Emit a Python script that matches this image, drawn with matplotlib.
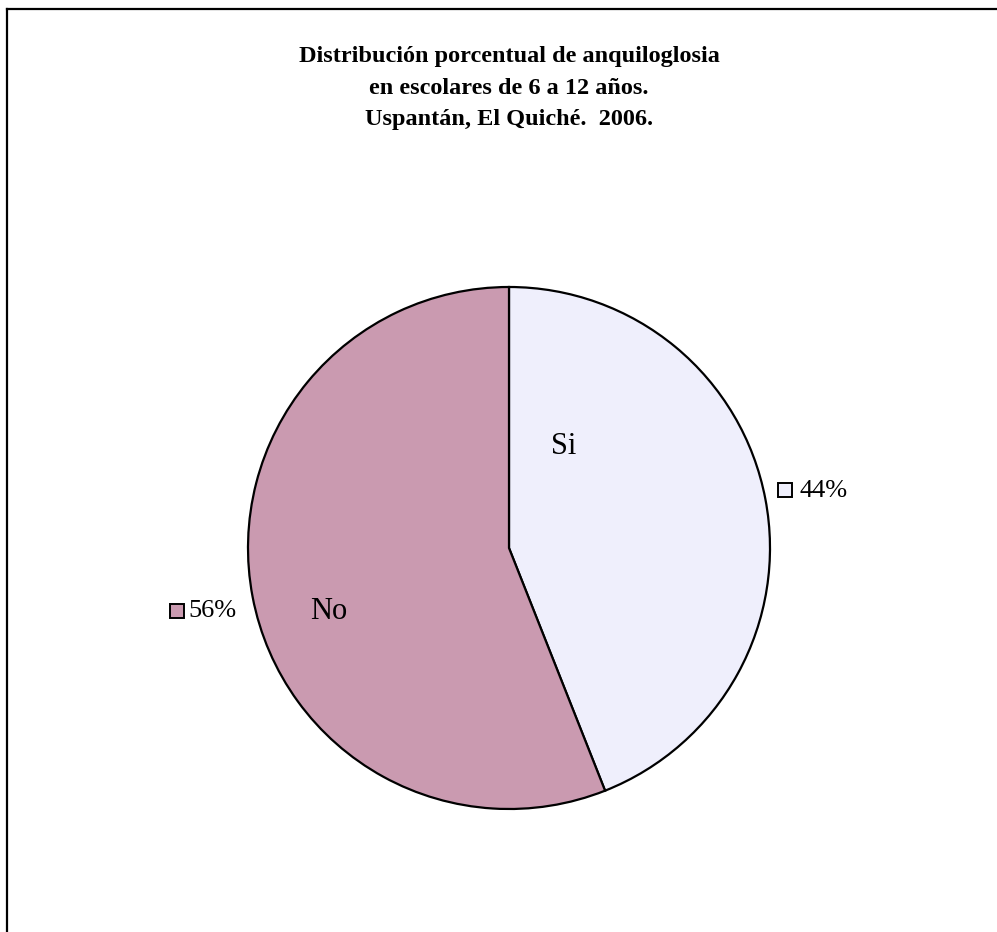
import numpy as np
import matplotlib.pyplot as plt
from matplotlib.lines import Line2D

# Datos del grafico
categorias = ['Si', 'No']
porcentajes = [44, 56]
colores = ['#EFEFFC', '#CA9AB0']
titulo = ('Distribución porcentual de anquiloglosia\n'
          'en escolares de 6 a 12 años.\n'
          'Uspantán, El Quiché.  2006.')

plt.rcParams['font.family'] = ['Liberation Serif', 'DejaVu Serif']

W, H = 997, 932
fig = plt.figure(figsize=(W / 100, H / 100), dpi=100)

# marco exterior (izquierda y arriba)
fig.add_artist(Line2D([7 / W, 7 / W], [0, 1 - 9 / H], color='black', lw=1.6))
fig.add_artist(Line2D([7 / W, 1], [1 - 9 / H, 1 - 9 / H], color='black', lw=1.6))

fig.text(509 / W, 1 - 46 / H, titulo, ha='center', va='top', fontsize=17.5,
         fontweight='bold', linespacing=1.66)

# ejes del pastel: centro (509, 548), radio 261 px
cx, cy, r = 509, 548, 261
ax = fig.add_axes([(cx - r) / W, (H - cy - r) / H, 2 * r / W, 2 * r / H])
wedges, _ = ax.pie(porcentajes, colors=colores, startangle=90, counterclock=False,
                   wedgeprops=dict(edgecolor='black', linewidth=1.6))
ax.set_xlim(-1, 1)
ax.set_ylim(-1, 1)
ax.set_aspect('equal')
ax.axis('off')

# nombres dentro de cada porcion
ax.text(0.21, 0.39, 'Si', fontsize=22, ha='center', va='center')
ax.text(-0.69, -0.245, 'No', fontsize=22, ha='center', va='center')

# etiquetas de porcentaje con cuadro de color
for w, p, c in zip(wedges, porcentajes, colores):
    ang = np.deg2rad((w.theta1 + w.theta2) / 2)
    x, y = 1.1 * np.cos(ang), 1.1 * np.sin(ang)
    if x > 0:
        ax.plot(x - 0.023, y + 0.016, marker='s', ms=10, mfc=c, mec='black', mew=1.4, clip_on=False)
        ax.text(x + 0.031, y + 0.012, f'{p}%', fontsize=19, ha='left', va='center')
    else:
        ax.text(x + 0.038, y - 0.035, f'{p}%', fontsize=19, ha='right', va='center')
        ax.plot(x - 0.192, y - 0.035, marker='s', ms=10, mfc=c, mec='black', mew=1.4, clip_on=False)

fig.savefig('out.png', dpi=100, facecolor='white')
